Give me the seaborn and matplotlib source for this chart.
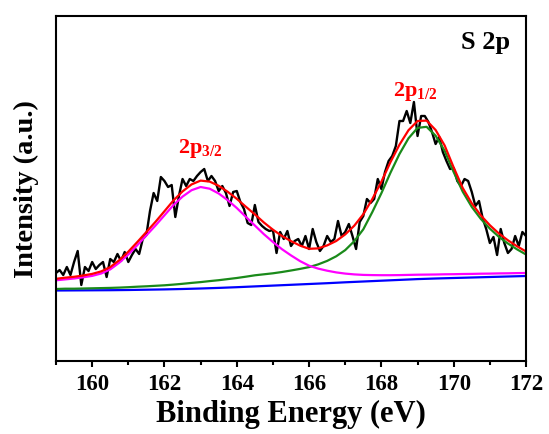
import numpy as np
import matplotlib
matplotlib.use("Agg")
import matplotlib.pyplot as plt
from matplotlib.ticker import MultipleLocator
import seaborn as sns

# ---- data (arbitrary intensity units) ----
energy_raw = np.linspace(159, 172, 131)
intensity_raw = [
    88, 91, 86, 94, 86, 99, 110, 76, 94, 90,
    99, 92, 96, 99, 84, 102, 99, 107, 100, 109,
    99, 106, 112, 107, 122, 126, 150, 168, 160, 184,
    180, 174, 176, 144, 165, 182, 175, 182, 180, 185,
    189, 192, 180, 185, 180, 170, 175, 168, 155, 169,
    170, 159, 152, 138, 136, 156, 139, 135, 132, 130,
    131, 108, 129, 122, 130, 115, 120, 122, 115, 125,
    112, 132, 119, 110, 115, 125, 119, 122, 140, 125,
    129, 137, 125, 112, 139, 145, 162, 158, 162, 182,
    172, 189, 200, 205, 215, 240, 240, 250, 238, 259,
    225, 245, 245, 239, 229, 217, 224, 209, 200, 192,
    193, 180, 175, 182, 180, 169, 155, 160, 143, 132,
    118, 124, 106, 132, 118, 108, 112, 125, 115, 129,
    125,
]

energy_fit = np.linspace(159, 172, 53)
baseline = [
    70.5, 70.55, 70.6, 70.65, 70.7, 70.75, 70.8, 70.9, 71.0, 71.15, 71.3, 71.45,
    71.6, 71.8, 72.0, 72.25, 72.5, 72.8, 73.1, 73.45, 73.8, 74.2, 74.6, 75.0,
    75.4, 75.8, 76.2, 76.6, 77.0, 77.4, 77.8, 78.25, 78.7, 79.1, 79.5, 79.9,
    80.3, 80.7, 81.1, 81.5, 81.9, 82.2, 82.5, 82.75, 83.0, 83.25, 83.5, 83.75,
    84.0, 84.25, 84.5, 84.75, 85.0,
]
peak_3_2 = [
    80.7, 81.6, 82.5, 83.7, 85.1, 87.5, 91.6, 98.3, 106.5, 115.9, 125.6, 135.4,
    145.7, 156.0, 164.4, 170.8, 174.0, 172.3, 167.5, 160.8, 153.0, 144.2, 135.5,
    126.8, 119.0, 111.8, 105.6, 99.9, 95.3, 92.4, 90.3, 88.6, 87.4, 86.6, 86.1,
    85.9, 85.8, 85.8, 85.9, 86.1, 86.3, 86.4, 86.5, 86.7, 86.8, 87.0, 87.1,
    87.3, 87.4, 87.6, 87.7, 87.9, 88.0,
]
peak_1_2 = [
    72.0, 72.3, 72.3, 72.5, 72.7, 72.9, 73.1, 73.4, 73.8, 74.3, 74.7, 75.2,
    75.7, 76.4, 77.2, 78.1, 78.9, 79.9, 80.8, 81.9, 83.0, 84.3, 85.7, 86.7,
    87.7, 89.0, 90.5, 92.1, 93.9, 96.6, 100.1, 104.7, 110.9, 119.8, 131.7,
    149.0, 167.8, 188.2, 207.0, 222.7, 233.1, 234.2, 225.3, 210.2, 188.9,
    169.3, 154.1, 142.1, 132.4, 124.2, 117.5, 111.7, 106.5,
]
envelope = [
    82.2, 83.3, 84.2, 85.5, 87.1, 89.6, 93.9, 100.8, 109.3, 119.0, 129.0, 139.1,
    149.8, 160.6, 169.6, 176.6, 180.4, 179.4, 175.2, 169.2, 162.2, 154.3, 146.6,
    138.5, 131.3, 125.0, 119.9, 115.4, 112.2, 112.6, 115.6, 120.0, 126.6, 135.3,
    146.8, 162.0, 179.3, 198.8, 216.3, 230.8, 240.0, 240.4, 231.0, 215.5, 193.5,
    173.0, 157.7, 145.6, 135.8, 127.5, 120.7, 114.8, 109.5,
]

x_ticks = [160, 162, 164, 166, 168, 170, 172]
label_3_2 = (163.0, 209)
label_1_2 = (168.95, 266)

# ---- style ----
sns.set_theme(style="ticks")
plt.rcParams["font.family"] = ["Liberation Serif", "DejaVu Serif"]
plt.rcParams["font.weight"] = "bold"
plt.rcParams["text.color"] = "black"
plt.rcParams["axes.labelcolor"] = "black"
plt.rcParams["xtick.color"] = "black"
plt.rcParams["ytick.color"] = "black"
plt.rcParams["axes.edgecolor"] = "black"
plt.rcParams["mathtext.fontset"] = "custom"
plt.rcParams["mathtext.rm"] = "Liberation Serif:bold"
plt.rcParams["mathtext.bf"] = "Liberation Serif:bold"
plt.rcParams["mathtext.it"] = "Liberation Serif:bold"

fig = plt.figure(figsize=(5.49, 4.35), dpi=100)
ax = fig.add_axes([56 / 549, 73 / 435, 470 / 549, 345 / 435])

sns.lineplot(x=energy_raw, y=intensity_raw, color="black", lw=1.7, ax=ax, errorbar=None)
sns.lineplot(x=energy_fit, y=baseline, color="#0000ff", lw=1.6, ax=ax, errorbar=None)
sns.lineplot(x=energy_fit, y=peak_1_2, color="#1a8a1a", lw=1.6, ax=ax, errorbar=None)
sns.lineplot(x=energy_fit, y=peak_3_2, color="#ff00ff", lw=1.6, ax=ax, errorbar=None)
sns.lineplot(x=energy_fit, y=envelope, color="#ff0000", lw=1.6, ax=ax, errorbar=None)

ax.set_xlim(159, 172)
ax.set_ylim(0, 345)
ax.set_xticks(x_ticks)
ax.xaxis.set_minor_locator(MultipleLocator(1))
ax.set_yticks([])
ax.tick_params(axis="x", which="major", direction="out", length=4.5, width=1.5,
               labelsize=16.5, pad=4, top=False, colors="black")
ax.tick_params(axis="x", which="minor", direction="out", length=2.6, width=1.5,
               top=False, colors="black")
for lab in ax.get_xticklabels():
    lab.set_fontweight("bold")
for sp in ax.spines.values():
    sp.set_visible(True)
    sp.set_linewidth(1.5)
    sp.set_color("black")

ax.set_xlabel("Binding Energy (eV)", fontsize=22, fontweight="bold", labelpad=4,
              color="black")
ax.set_ylabel("Intensity (a.u.)", fontsize=20.5, fontweight="bold", labelpad=12,
              color="black")

ax.text(0.966, 0.925, "S 2p", transform=ax.transAxes, ha="right", va="center",
        fontsize=19, fontweight="bold", color="black")
ax.text(label_3_2[0], label_3_2[1], r"$\mathbf{2p}_{\mathbf{3/2}}$", ha="center",
        va="baseline", fontsize=16, color="#ff0000")
ax.text(label_1_2[0], label_1_2[1], r"$\mathbf{2p}_{\mathbf{1/2}}$", ha="center",
        va="baseline", fontsize=16, color="#ff0000")

fig.savefig("out.png", dpi=100)
